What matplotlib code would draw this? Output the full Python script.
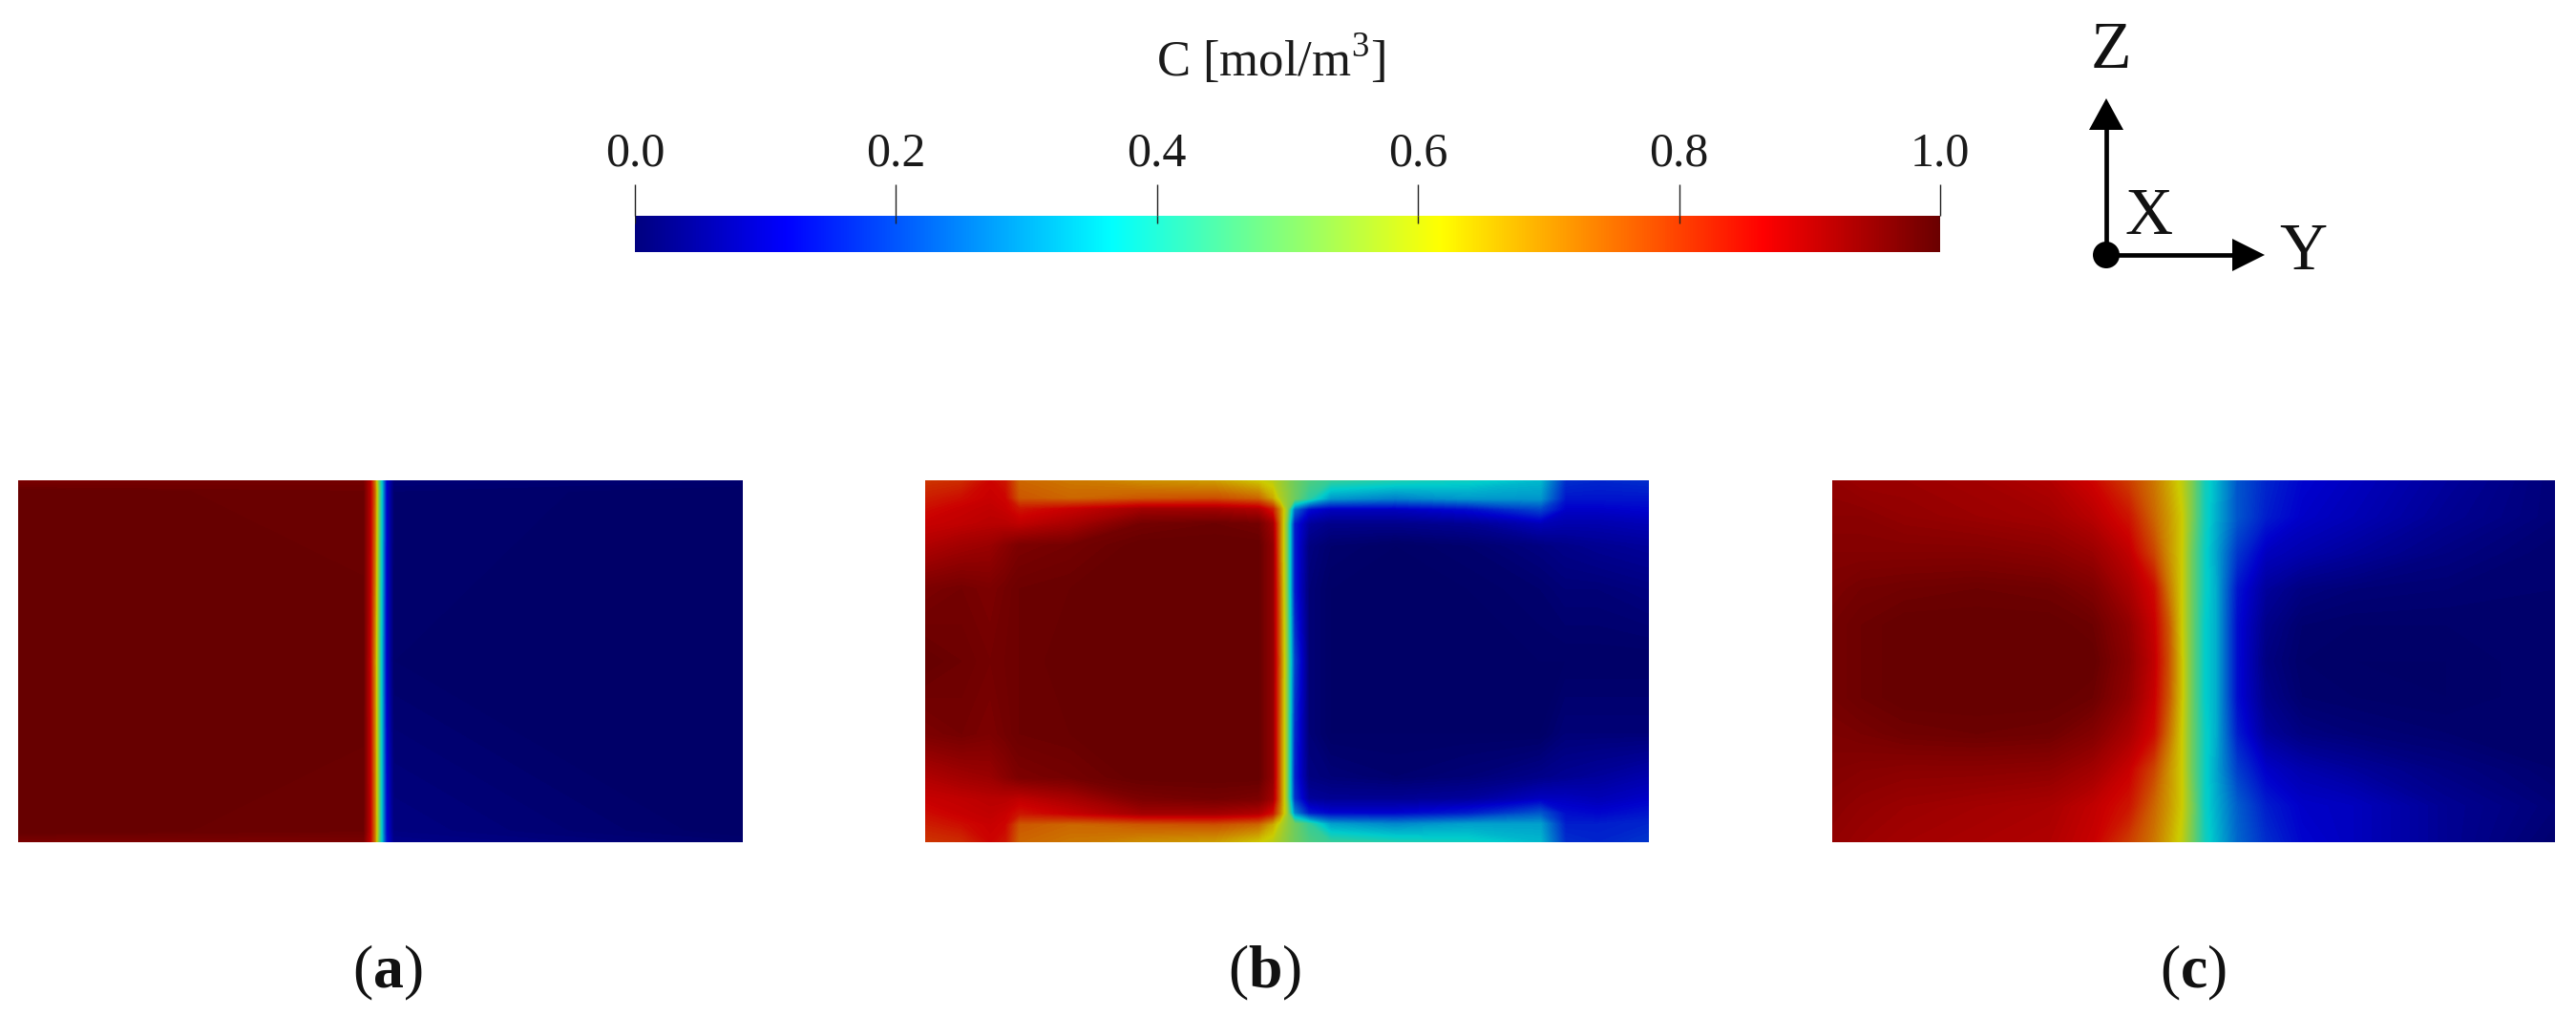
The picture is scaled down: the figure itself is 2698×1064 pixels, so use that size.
import numpy as np
import matplotlib
matplotlib.use("Agg")
import matplotlib.pyplot as plt
from matplotlib.colors import LinearSegmentedColormap, Normalize
from matplotlib.cm import ScalarMappable
from matplotlib.patches import Polygon, Circle

plt.rcParams['font.family'] = ['Liberation Serif', 'DejaVu Serif']
plt.rcParams['mathtext.fontset'] = 'custom'
plt.rcParams['mathtext.rm'] = 'Liberation Serif'
plt.rcParams['mathtext.bf'] = 'Liberation Serif:bold'

W, H = 2698, 1064

# ---- data: concentration fields ----
bar_ticks = [0.0, 0.2, 0.4, 0.6, 0.8, 1.0]
bar_title = "C [mol/m$^{3}$]"
panel_labels = ["(a)", "(b)", "(c)"]

xa = [0, .476, .485, .492, .497, .502, .508, .518, 1]
ya = [0, .03, .5, .97, 1]
za = [
    [.97, .98, .90, .72, .50, .34, .12, .02, .01],
    [1, .99, .90, .74, .52, .35, .12, .01, 0],
    [1, 1, .88, .70, .50, .33, .11, .005, 0],
    [1, .99, .89, .72, .52, .34, .13, .03, 0],
    [.97, .97, .88, .72, .50, .34, .14, .04, .01],
]

xb = [0, .05, .09, .11, .13, .2, .3, .4, .46, .48, .49, .5, .51, .53, .56, .65, .75, .85, .885, .93, 1]
yb = [0, .05, .08, .12, .18, .3, .5, .7, .82, .88, .92, .95, 1]
zb = [
    [.80, .81, .86, .84, .74, .72, .69, .67, .62, .59, .56, .53, .50, .46, .43, .40, .38, .34, .17, .16, .17],
    [.83, .85, .87, .86, .76, .74, .76, .77, .74, .66, .58, .54, .50, .42, .30, .27, .30, .30, .14, .14, .14],
    [.85, .87, .88, .87, .84, .87, .92, .92, .90, .83, .70, .54, .25, .13, .10, .10, .13, .20, .11, .11, .12],
    [.87, .88, .89, .89, .88, .91, .98, .99, .98, .92, .72, .50, .15, .06, .04, .04, .05, .09, .08, .08, .09],
    [.90, .92, .93, .95, .97, .98, 1, 1, 1, .94, .72, .50, .15, .03, .01, 0, .01, .03, .04, .05, .06],
    [.97, .98, .97, .98, .99, .995, 1, 1, 1, .94, .74, .50, .15, .02, 0, 0, 0, .01, .02, .02, .03],
    [1, .99, .98, .985, .99, 1, 1, 1, 1, .94, .75, .52, .20, .02, 0, 0, 0, 0, 0, 0, 0],
    [.97, .98, .97, .98, .99, .995, 1, 1, 1, .94, .74, .52, .17, .02, 0, 0, 0, 0, .02, .02, .02],
    [.90, .92, .93, .95, .97, .98, 1, 1, 1, .94, .74, .52, .16, .03, .02, .01, .02, .04, .05, .06, .08],
    [.87, .88, .89, .89, .88, .91, .97, .98, .97, .92, .74, .52, .18, .06, .05, .05, .06, .10, .10, .09, .11],
    [.85, .87, .88, .87, .84, .87, .92, .92, .90, .84, .71, .55, .28, .15, .12, .12, .15, .22, .13, .12, .14],
    [.83, .85, .87, .86, .76, .74, .76, .77, .74, .66, .59, .54, .50, .43, .31, .28, .31, .31, .15, .15, .16],
    [.80, .81, .86, .84, .74, .72, .69, .67, .62, .59, .56, .53, .50, .46, .43, .40, .38, .34, .17, .16, .18],
]

xc = [0, .04, .1, .2, .3, .36, .41, .445, .465, .483, .497, .515, .53, .56, .6, .65, .72, .85, 1]
yc = [0, .1, .2, .3, .4, .5, .6, .7, .8, .9, 1]
zc = [
    [.94, .93, .93, .92, .90, .86, .79, .72, .66, .60, .52, .39, .34, .22, .16, .12, .10, .06, .02],
    [.95, .95, .94, .93, .92, .89, .84, .74, .68, .62, .52, .39, .33, .22, .15, .11, .09, .05, .02],
    [.96, .96, .96, .96, .95, .93, .88, .78, .69, .62, .50, .38, .32, .18, .10, .08, .06, .03, .01],
    [.97, .98, .985, .99, .985, .965, .91, .85, .72, .62, .50, .38, .33, .14, .06, .03, .02, .015, .01],
    [.98, .99, 1, 1, 1, .99, .94, .87, .76, .62, .50, .37, .33, .13, .04, .01, .005, .005, .01],
    [.98, .99, 1, 1, 1, 1, .95, .88, .77, .63, .50, .37, .33, .13, .03, .005, 0, 0, .01],
    [.98, .99, 1, 1, 1, .99, .94, .87, .76, .63, .50, .37, .33, .13, .04, .01, .005, 0, .01],
    [.97, .975, .985, .99, .985, .96, .91, .85, .73, .62, .50, .38, .33, .15, .06, .03, .02, .01, .01],
    [.96, .955, .95, .95, .945, .92, .87, .78, .69, .62, .50, .38, .32, .19, .11, .08, .06, .03, .01],
    [.95, .94, .93, .92, .91, .88, .84, .74, .68, .62, .52, .38, .33, .23, .15, .11, .10, .05, .02],
    [.94, .93, .92, .91, .90, .87, .79, .72, .66, .60, .51, .39, .34, .24, .17, .12, .10, .05, .01],
]

# ---- colours ----
stops = [(0.0, (0, 0, .50)), (.115, (0, 0, 1)), (.365, (0, 1, 1)), (.49, (.5, 1, .5)),
         (.617, (1, 1, 0)), (.865, (1, 0, 0)), (1.0, (.42, 0, 0))]
bar_cmap = LinearSegmentedColormap.from_list("pv_jet", stops, N=512)
shade = 0.8  # the lit surfaces render darker than the colour bar
surf_stops = [(p, tuple(min(1, c * shade) for c in rgb)) for p, rgb in
              [(0.0, (0, 0, .5)), (.115, (0, 0, 1)), (.365, (0, 1, 1)), (.49, (.5, 1, .5)),
               (.617, (1, 1, 0)), (.865, (1, 0, 0)), (1.0, (.5, 0, 0))]]
surf_cmap = LinearSegmentedColormap.from_list("pv_jet_lit", surf_stops, N=512)
norm = Normalize(0, 1)

fig = plt.figure(figsize=(W / 100, H / 100), dpi=100, facecolor="white")


def box(x0, y0, x1, y1):
    return [x0 / W, 1 - y1 / H, (x1 - x0) / W, (y1 - y0) / H]


# ---- the three panels ----
levels = np.linspace(0, 1, 201)
panels = [((19, 503, 778, 882), xa, ya, za),
          ((969, 503, 1727, 882), xb, yb, zb),
          ((1919, 503, 2676, 882), xc, yc, zc)]
for rect, xs, ys, zs in panels:
    ax = fig.add_axes(box(*rect))
    ax.contourf(xs, ys, np.array(zs), levels=levels, cmap=surf_cmap, norm=norm,
                extend="both", antialiased=False)
    ax.set_xlim(0, 1)
    ax.set_ylim(1, 0)
    ax.axis("off")

# ---- colour bar ----
cax = fig.add_axes(box(665, 226, 2032, 264))
cb = fig.colorbar(ScalarMappable(norm=norm, cmap=bar_cmap), cax=cax, orientation="horizontal",
                  ticklocation="top", ticks=bar_ticks)
cb.outline.set_visible(False)
cb.ax.set_xticklabels([f"{t:.1f}" for t in bar_ticks])
cb.ax.tick_params(axis="x", length=24, width=1.0, color="#222222", pad=6,
                  labelsize=36, labelcolor="#1a1a1a")
cb.ax.vlines(bar_ticks, 0.78, 1.0, color="#222222", lw=1.0)
cb.ax.set_ylim(0, 1)

# ---- overlay in pixels: title, triad, panel captions ----
ov = fig.add_axes([0, 0, 1, 1], facecolor="none")
ov.set_xlim(0, W)
ov.set_ylim(H, 0)
ov.axis("off")
ov.text(1331, 62, bar_title, ha="center", va="center", fontsize=38, color="#1a1a1a")

ox, oy = 2206, 267
ov.plot([ox, ox], [oy, 130], color="black", lw=3.4, solid_capstyle="butt")
ov.plot([ox, 2342], [oy, oy], color="black", lw=3.4, solid_capstyle="butt")
ov.add_patch(Polygon([(ox, 103), (ox - 18, 136), (ox + 18, 136)], closed=True, fc="black", ec="none"))
ov.add_patch(Polygon([(2372, oy), (2338, oy - 17), (2338, oy + 17)], closed=True, fc="black", ec="none"))
ov.add_patch(Circle((ox, oy), 14, fc="black", ec="none"))
ov.text(2211, 54, "Z", ha="center", va="center", fontsize=50, color="#111111")
ov.text(2251, 228, "X", ha="center", va="center", fontsize=50, color="#111111")
ov.text(2412, 265, "Y", ha="center", va="center", fontsize=50, color="#111111")

for cx, lab in zip((406, 1325, 2297), panel_labels):
    ov.text(cx, 1019, f"({'$\\mathbf{' + lab[1] + '}$'})", ha="center", va="center",
            fontsize=46, color="#111111")

fig.savefig("out.png", dpi=100, facecolor="white")
